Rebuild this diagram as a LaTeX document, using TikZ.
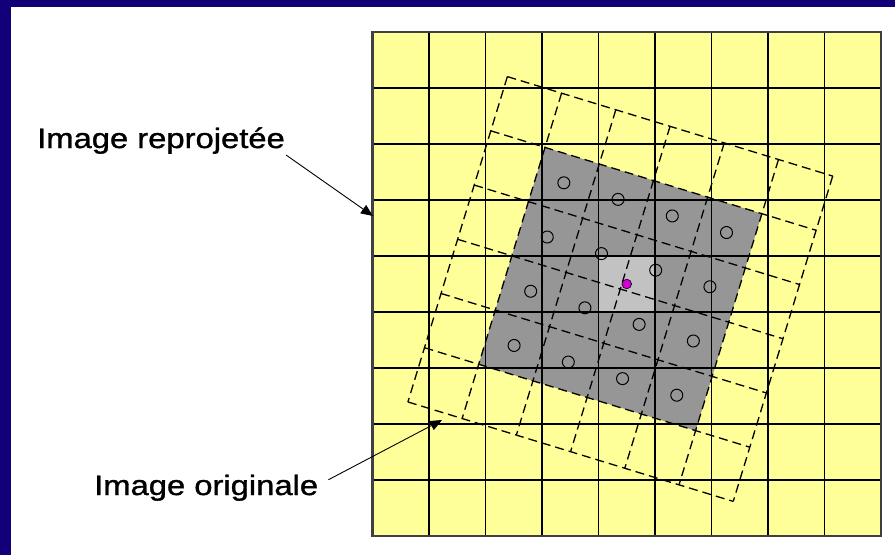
\documentclass[tikz,border=0pt]{standalone}
\usepackage{fontspec}
\setmainfont{Liberation Sans}[FakeStretch=1.17, FakeBold=1.2]
\usetikzlibrary{calc, arrows.meta}

\definecolor{navy}{RGB}{17,0,119}
\definecolor{pale}{RGB}{255,255,153}
\definecolor{midgray}{RGB}{150,150,150}
\definecolor{cellgray}{RGB}{194,194,194}
\definecolor{dotmagenta}{RGB}{210,0,210}

\begin{document}
\begin{tikzpicture}[x=1pt, y=-1pt,
    imglabel/.style={font=\fontsize{28}{32}\selectfont, inner sep=1pt},
    gridline/.style={line width=1.4pt},
    rotgrid/.style={shift={(620.3,289)}, rotate=-17},
    dashline/.style={line width=1.3pt, dash pattern=on 9pt off 5pt},
    pointer/.style={-{Triangle[length=12pt,width=10pt]}, line width=0.9pt}]

    \useasboundingbox[fill=navy] (0,0) rectangle (895,555);
    \fill[white] (11,7) rectangle (895,555);

    \fill[pale] (372.5,32) rectangle (881,536);

    \begin{scope}[rotgrid]
        \fill[midgray] (-113.4,-113.4) rectangle (113.4,113.4);
    \end{scope}
    \fill[cellgray] (598.5,256) rectangle (655,312);

    \foreach \i in {0,...,9} {
        \draw[gridline] ({372.5+56.5*\i},32) -- ({372.5+56.5*\i},536);
        \draw[gridline] (372.5,{32+56*\i}) -- (881,{32+56*\i});
    }
    \draw[line width=2.4pt, draw=black!75] (372.5,32) rectangle (881,536);

    \begin{scope}[rotgrid]
        \foreach \k in {0,...,6} {
            \draw[dashline] ({-170.1+56.7*\k},-170.1) -- ({-170.1+56.7*\k},170.1);
            \draw[dashline] (-170.1,{-170.1+56.7*\k}) -- (170.1,{-170.1+56.7*\k});
        }
        \foreach \u in {-85.05,-28.35,28.35,85.05}
            \foreach \v in {-85.05,-28.35,28.35,85.05}
                \draw[line width=1pt] (\u,\v) circle (6);
    \end{scope}

    \coordinate (pix) at (626.75,284);
    \draw[fill=dotmagenta, line width=0.6pt] (pix) circle (4.8);

    \node[imglabel, anchor=base west] (reproj) at (36,148) {Image reprojetée};
    \node[imglabel, anchor=base west] (orig) at (93,495) {Image originale};

    \coordinate (reprojtip) at (373,216);
    \coordinate (origtip) at (442,420);
    \draw[pointer] (reproj.south east) -- (reprojtip);
    \draw[pointer] ([xshift=9pt,yshift=8pt]orig.east) -- (origtip);
\end{tikzpicture}
\end{document}
